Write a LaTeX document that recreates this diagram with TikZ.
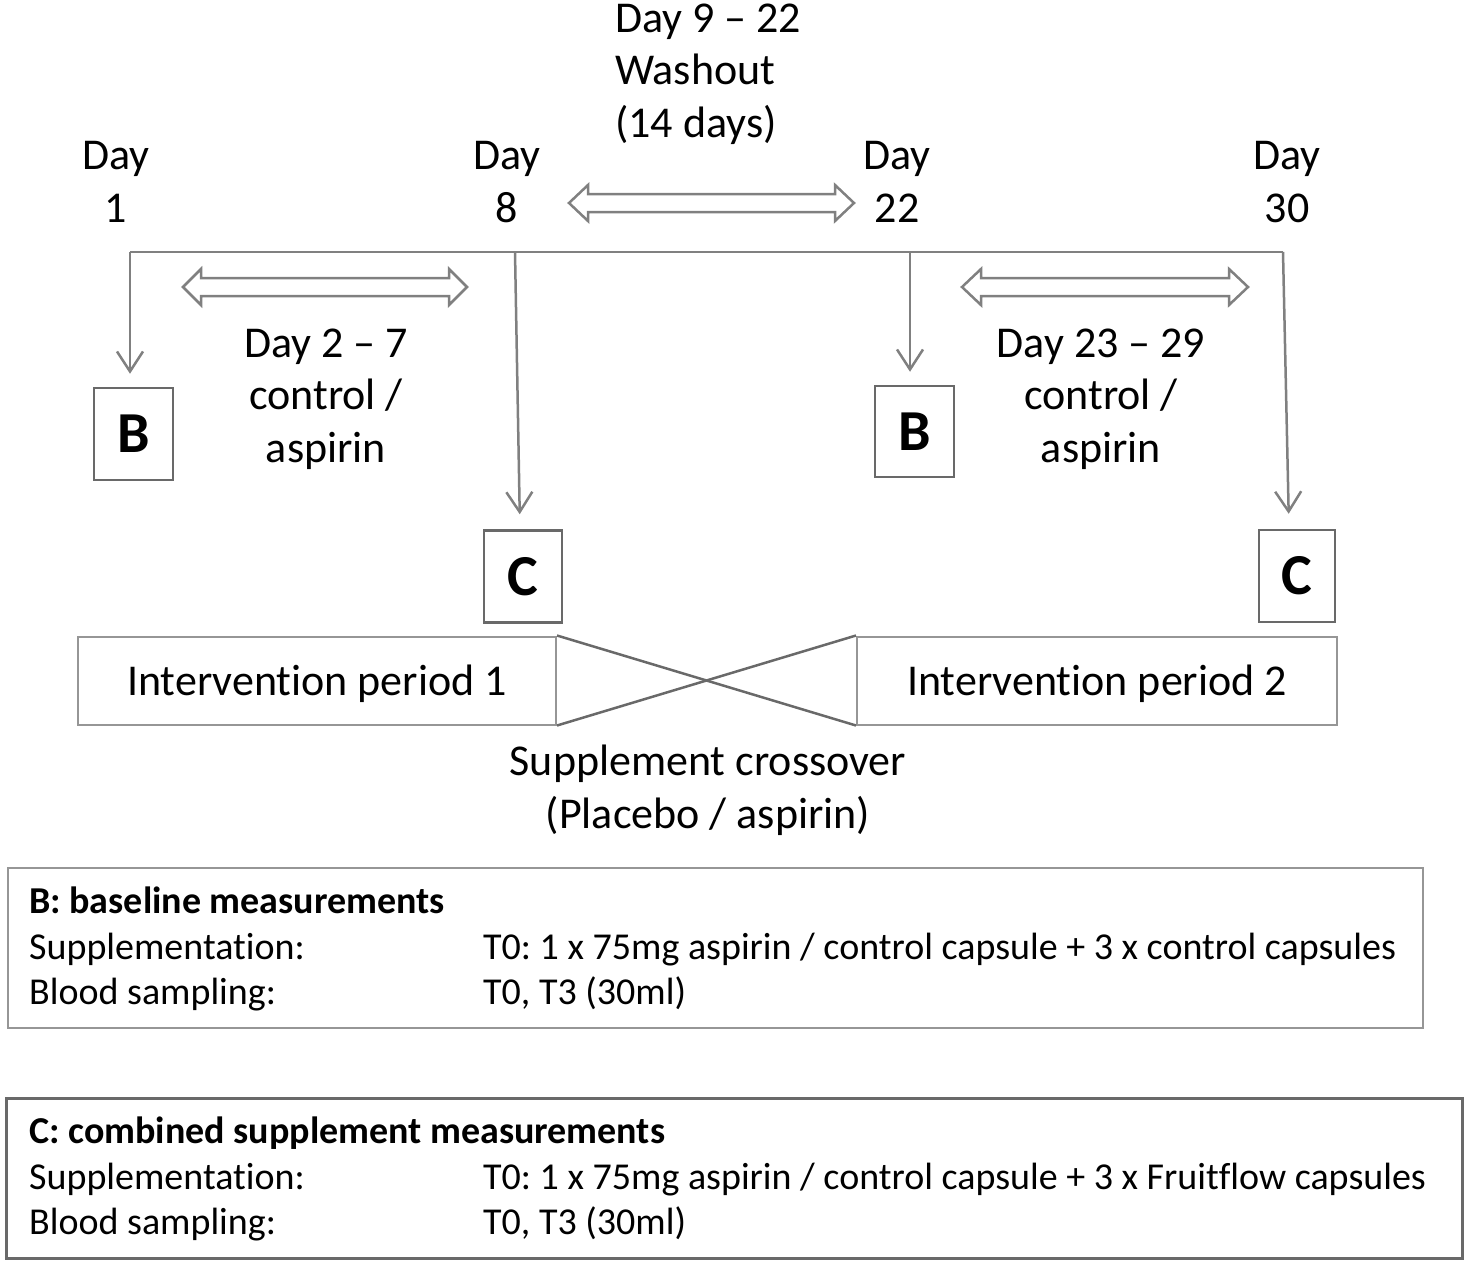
\documentclass[tikz,border=0pt]{standalone}
\usepackage{fontspec}
\setmainfont{Carlito}[Ligatures={TeX,NoCommon}]
\frenchspacing
\usetikzlibrary{arrows.meta,calc}
\definecolor{lc}{RGB}{128,128,128}
\definecolor{dc}{RGB}{105,105,105}
\definecolor{bc}{RGB}{150,150,150}
\newcommand{\myDblArrow}[4]{% xL, xR, yc, head length
  \draw[blockarr] (#1,#3) -- (#1+#4,#3-18) -- (#1+#4,#3-9) -- (#2-#4,#3-9) -- (#2-#4,#3-18)
    -- (#2,#3) -- (#2-#4,#3+18) -- (#2-#4,#3+9) -- (#1+#4,#3+9) -- (#1+#4,#3+18) -- cycle;}
\tikzset{
  tline/.style={draw=lc,line width=2.5pt},
  darrow/.style={tline,-{Straight Barb[length=20pt,width=26pt]}},
  lbox/.style={draw=dc,line width=2.5pt,minimum height=92pt,inner sep=0pt,
    text height=37.5pt,text depth=0pt,font=\fontsize{58}{66}\selectfont\bfseries},
  ibox/.style={draw=bc,line width=2pt,minimum height=88pt,inner sep=0pt,
    text height=31pt,text depth=2pt,font=\fontsize{44}{52.5}\selectfont},
  xline/.style={draw=dc,line width=2.5pt},
  mtext/.style={inner sep=0pt,anchor=base,align=center,font=\fontsize{44}{52.5}\selectfont},
  ltext/.style={inner sep=0pt,anchor=base west,font=\fontsize{38}{45}\selectfont},
  legbox/.style={minimum height=160pt,inner sep=0pt,anchor=north west},
  blockarr/.style={draw=lc,line width=2.5pt,fill=white,line join=miter}
}
\begin{document}
\begin{tikzpicture}[x=1pt,y=-1pt]
\useasboundingbox (0,0) rectangle (1467,1263);
% day labels (anchor = baseline of last line)
\node[mtext] (d1) at (116,222) {Day\\1};
\node[mtext] (d8) at (507,222) {Day\\8};
\node[mtext] (d22) at (897,222) {Day\\22};
\node[mtext] (d30) at (1287,222) {Day\\30};
\node[mtext,align=left,anchor=base west] (wash) at (615,137) {Day 9 – 22\\Washout\\(14 days)};
% timeline
\coordinate (t1) at (130,252);
\coordinate (t8) at (515,252);
\coordinate (t22) at (910,252);
\coordinate (t30) at (1283,252);
\draw[tline] (t1) -- (t30);
% letter boxes
\node[lbox,minimum width=79pt] (B1) at (133.5,434) {B};
\node[lbox,minimum width=78pt] (C1) at (523,576.5) {C};
\node[lbox,minimum width=79pt,minimum height=91pt] (B2) at (914.5,431.5) {B};
\node[lbox,minimum width=76pt] (C2) at (1297,576) {C};
% arrows
\draw[darrow,shorten >=13pt] (t1) -- (t1 |- B1.north);
\draw[darrow,shorten >=15pt] (t8) -- ([xshift=-3pt]C1.north);
\draw[darrow,shorten >=13pt] (t22) -- (t22 |- B2.north);
\draw[darrow,shorten >=15pt] (t30) -- ([xshift=-8pt]C2.north);
% block double arrows
\myDblArrow{569}{854}{203}{19}
\myDblArrow{183}{467}{287}{18}
\myDblArrow{962}{1248}{287}{19}
% period labels
\node[mtext] (p1) at (326,462) {Day 2 – 7\\control /\\aspirin};
\node[mtext] (p2) at (1101,462) {Day 23 – 29\\control /\\aspirin};
% intervention boxes
\node[ibox,minimum width=478pt] (ip1) at (317,680.5) {Intervention period 1};
\node[ibox,minimum width=480pt] (ip2) at (1097,680.5) {Intervention period 2};
\draw[xline] (ip1.north east) -- (ip2.south west);
\draw[xline] (ip1.south east) -- (ip2.north west);
\node[mtext] (sc) at (708,828) {Supplement crossover\\(Placebo / aspirin)};
% legend B
\node[legbox,draw=bc,line width=2pt,minimum width=1415pt] (legB) at (7,867) {};
\node[ltext,font=\fontsize{38}{45}\selectfont\bfseries] (lb0) at (29,913) {B: baseline measurements};
\node[ltext] (lb1) at (29,959) {Supplementation:};
\node[ltext] (lb2) at (483,959) {T0: 1 x 75mg aspirin / control capsule + 3 x control capsules};
\node[ltext] (lb3) at (29,1004) {Blood sampling:};
\node[ltext] (lb4) at (483,1004) {T0, T3 (30ml)};
% legend C
\node[legbox,draw=dc,line width=3pt,minimum width=1456pt] (legC) at (5,1097) {};
\node[ltext,font=\fontsize{38}{45}\selectfont\bfseries] (lc0) at (29,1143) {C: combined supplement measurements};
\node[ltext] (lc1) at (29,1189) {Supplementation:};
\node[ltext] (lc2) at (483,1189) {T0: 1 x 75mg aspirin / control capsule + 3 x Fruitflow capsules};
\node[ltext] (lc3) at (29,1234) {Blood sampling:};
\node[ltext] (lc4) at (483,1234) {T0, T3 (30ml)};
\end{tikzpicture}
\end{document}
